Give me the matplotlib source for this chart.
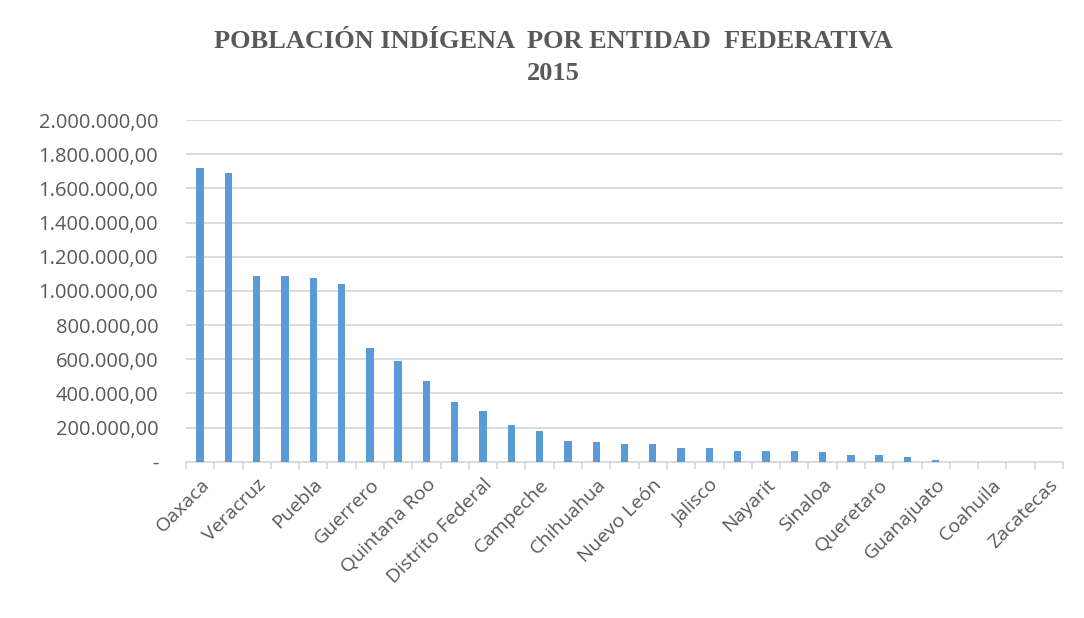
import matplotlib
matplotlib.use("Agg")
import matplotlib.pyplot as plt
from matplotlib.ticker import FuncFormatter, FixedLocator
import numpy as np

estados = ["Oaxaca", "Chiapas", "Veracruz", "Yucatán", "Puebla", "Estado de México",
           "Guerrero", "Hidalgo", "Quintana Roo", "San Luis Potosí", "Distrito Federal",
           "Michoacán", "Campeche", "Tabasco", "Chihuahua", "Sonora", "Nuevo León",
           "Morelos", "Jalisco", "Tlaxcala", "Nayarit", "Baja California", "Sinaloa",
           "Durango", "Queretaro", "Tamaulipas", "Guanajuato", "Colima", "Coahuila",
           "Aguascalientes", "Zacatecas"]
poblacion = [1719000, 1690000, 1085000, 1085000, 1076000, 1040000,
             664000, 588000, 470000, 348000, 296000,
             214000, 177000, 124000, 117000, 101000, 103000,
             79000, 79000, 65000, 65000, 65000, 57000,
             42000, 42000, 26000, 12000, 0, 0,
             0, 0]
y_ticks = [0, 200000, 400000, 600000, 800000, 1000000, 1200000,
           1400000, 1600000, 1800000, 2000000]

TXT = "#595959"
GRID = "#D9D9D9"
BAR = "#5B9BD5"

fig = plt.figure(figsize=(10.84, 6.18), dpi=100, facecolor="white")
ax = fig.add_axes([186/1084, 1-461.7/618, (1063-186)/1084, (461.7-120)/618])

x = np.arange(len(estados))
ax.bar(x, poblacion, width=0.26, color=BAR, zorder=3)

def fmt(v, pos):
    if v == 0:
        return "-"
    s = f"{int(round(v)):,}".replace(",", ".")
    return s + ",00"

ax.yaxis.set_major_locator(FixedLocator(y_ticks))
ax.yaxis.set_major_formatter(FuncFormatter(fmt))
ax.set_xlim(-0.5, len(estados)-0.5)
ax.set_ylim(0, y_ticks[-1])
ax.grid(axis="y", color=GRID, linewidth=1.3, zorder=0)
ax.set_axisbelow(True)

for s in ["top", "right", "left"]:
    ax.spines[s].set_visible(False)
ax.spines["bottom"].set_color(GRID)
ax.spines["bottom"].set_linewidth(1.3)

ax.tick_params(axis="y", length=0, pad=20, labelsize=14.5, labelcolor=TXT)
for lbl in ax.get_yticklabels():
    lbl.set_fontfamily("Open Sans")

# major ticks at category boundaries (marks), minor for labels
ax.xaxis.set_major_locator(FixedLocator(np.arange(-0.5, len(estados), 1.0)))
ax.xaxis.set_major_formatter(FuncFormatter(lambda v, p: ""))
ax.tick_params(axis="x", which="major", length=5, width=1.3, color=GRID, direction="out")
ax.set_xticks(x[::2], minor=True)
ax.set_xticklabels(estados[::2], minor=True, rotation=45, ha="right",
                   rotation_mode="anchor", fontsize=14, color=TXT, fontfamily="Open Sans")
ax.tick_params(axis="x", which="minor", length=0, pad=10)

fig.text(553/1084, 1-42/618, "POBLACIÓN INDÍGENA  POR ENTIDAD  FEDERATIVA", ha="center", va="center",
         fontsize=19, fontweight="bold", color=TXT, fontfamily="Liberation Serif")
fig.text(553/1084, 1-73/618, "2015", ha="center", va="center",
         fontsize=19, fontweight="bold", color=TXT, fontfamily="Liberation Serif")

fig.savefig("out.png", dpi=100, facecolor="white")
